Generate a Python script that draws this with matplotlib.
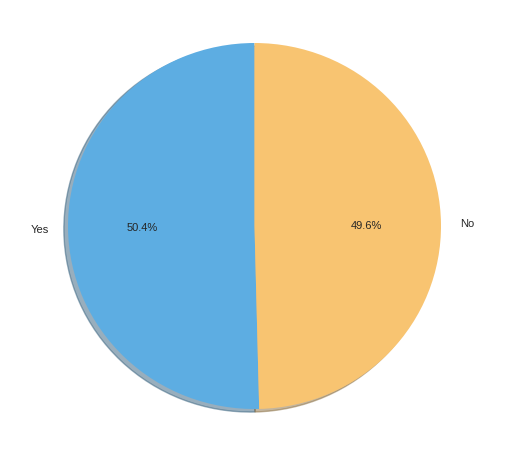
import matplotlib
matplotlib.use("Agg")
import matplotlib.pyplot as plt

labels = ["Yes", "No"]
values = [50.4, 49.6]
colors = ["#5DADE2", "#F8C471"]

plt.rcParams['font.family'] = ['Liberation Sans', 'DejaVu Sans']
plt.rcParams['text.color'] = '#262626'

fig = plt.figure(figsize=(5.11, 4.60), dpi=100)
ax = fig.add_axes([0, 0, 1, 1])
ax.pie(values, labels=labels, colors=colors, autopct='%1.1f%%', startangle=90,
       shadow={'ox': -0.016, 'oy': -0.012, 'shade': 0.45},
       textprops={'fontsize': 8, 'color': '#262626'})
RX, RY = 186.5, 183.0
cx, cy = 254.5, 227.0
ax.set_xlim(-cx / RX, (511 - cx) / RX)
ax.set_ylim(-(460 - cy) / RY, cy / RY)
ax.set_aspect('auto')
ax.axis('off')
fig.savefig("out.png", dpi=100)
